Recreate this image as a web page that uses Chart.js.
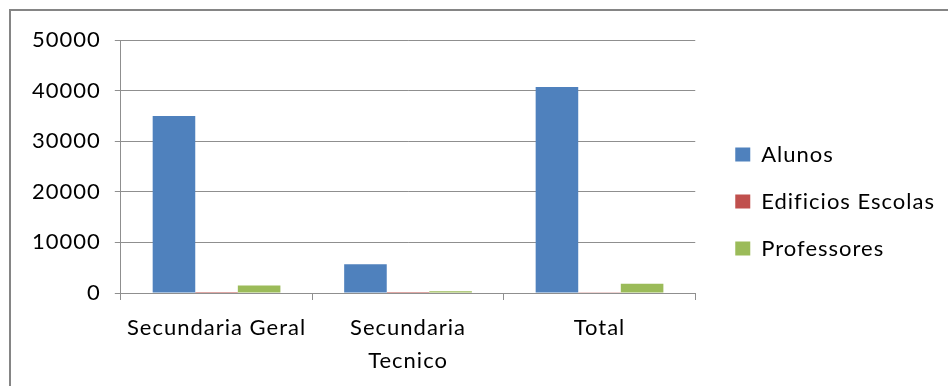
<!DOCTYPE html>
<html>
<head>
<meta charset="utf-8">
<script src="https://cdn.jsdelivr.net/npm/chart.js@4.4.1/dist/chart.umd.min.js"></script>
<style>
  html, body { margin: 0; padding: 0; background: #fff; }
  #wrap { position: relative; width: 948px; height: 386px; overflow: hidden; }
  canvas { display: block; }
</style>
</head>
<body>
<div id="wrap"><canvas id="c" width="948" height="386"></canvas></div>
<script>
// Categories and series
const categories = ["Secundaria Geral", ["Secundaria", "Tecnico"], "Total"];
const alunos = [35000, 5700, 40700];
const edificiosEscolas = [20, 5, 25];
const professores = [1500, 340, 1840];
const yTicks = [0, 10000, 20000, 30000, 40000, 50000];

const FONT = "Lato";
const TEXT = "#000";
const GRID = "#8f8f8f";

// Slightly open letter spacing for all canvas text
const spacingPlugin = {
  id: "spacing",
  beforeLayout(chart) { chart.ctx.letterSpacing = "1px"; },
  beforeDraw(chart) { chart.ctx.letterSpacing = "1px"; }
};

// Outer frame around the whole chart
const framePlugin = {
  id: "frame",
  afterDraw(chart) {
    const ctx = chart.ctx;
    ctx.save();
    ctx.strokeStyle = "#858585";
    ctx.lineWidth = 2;
    ctx.strokeRect(10, 10, 1200, 1200);
    ctx.restore();
  }
};

// Empty spacer axis (keeps room around the plot without drawing anything)
const spacer = (position, size) => ({
  position,
  display: true,
  grid: { display: false },
  border: { display: false },
  ticks: { display: false },
  afterFit(scale) {
    if (position === "top") scale.height = size; else scale.width = size;
  }
});

new Chart(document.getElementById("c"), {
  type: "bar",
  data: {
    labels: categories,
    datasets: [
      { label: "Alunos", data: alunos, backgroundColor: "#4F81BD" },
      { label: "Edificios Escolas", data: edificiosEscolas, backgroundColor: "#C0504D" },
      { label: "Professores", data: professores, backgroundColor: "#9BBB59" }
    ]
  },
  options: {
    responsive: false,
    animation: false,
    devicePixelRatio: 1,
    layout: { padding: { top: 25, left: 18, right: 3, bottom: 8 } },
    datasets: { bar: { categoryPercentage: 0.667, barPercentage: 1.0 } },
    plugins: {
      tooltip: { enabled: false },
      legend: {
        position: "right",
        maxWidth: 300,
        labels: {
          font: { family: FONT, size: 22 },
          color: TEXT,
          boxWidth: 15,
          boxHeight: 14,
          padding: 25
        }
      }
    },
    scales: {
      x: {
        grid: { display: true, offset: true, drawOnChartArea: false, tickLength: 7, color: GRID },
        border: { display: true, color: GRID, width: 1 },
        ticks: { font: { family: FONT, size: 22, lineHeight: 1.5 }, color: TEXT, padding: 11, maxRotation: 0, autoSkip: false },
        afterFit(scale) { scale.height -= 10; }
      },
      y: {
        min: 0,
        max: 50000,
        afterBuildTicks(scale) { scale.ticks = yTicks.map(v => ({ value: v })); },
        grid: { color: GRID, tickLength: 6, lineWidth: 1 },
        border: { display: true, color: GRID, width: 1 },
        ticks: { font: { family: FONT, size: 22 }, color: TEXT, padding: 14, callback: v => String(v) }
      },
      topSpace: spacer("top", 15),
      rightSpace: spacer("right", 15)
    }
  },
  plugins: [spacingPlugin, framePlugin]
});
</script>
</body>
</html>
